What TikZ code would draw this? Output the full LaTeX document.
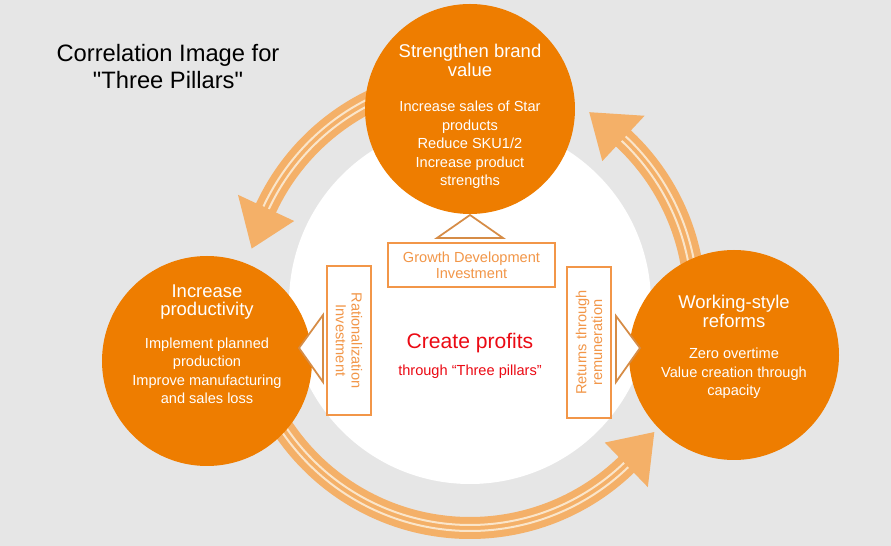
\documentclass[tikz,border=0pt]{standalone}
\usepackage{fontspec}
\setmainfont{Liberation Sans}[Ligatures=TeXOff]

\definecolor{cinza}{RGB}{230,230,230}
\definecolor{laranja}{RGB}{238,125,0}
\definecolor{laranjaclaro}{RGB}{244,176,104}
\definecolor{creme}{RGB}{250,229,202}
\definecolor{bordacaixa}{RGB}{242,150,72}
\definecolor{bordatri}{RGB}{214,140,70}
\definecolor{vermelho}{RGB}{235,10,20}

\begin{document}
\begin{tikzpicture}[
    pilar/.style={fill=laranja, circle, minimum size=4.2cm, inner sep=0pt},
    cabeca/.style={text=white, align=center, font=\fontsize{10.5}{10.4}\selectfont},
    corpo/.style={text=white, align=center, font=\fontsize{8.3}{10.5}\selectfont},
    caixa/.style={draw=bordacaixa, line width=1.1pt, fill=white, text=bordacaixa, align=center, inner sep=0pt, font=\fontsize{8.3}{9}\selectfont},
    haste/.style={draw=laranjaclaro, line width=0.44cm},
    listra/.style={draw=creme, line width=0.04cm},
    ponta/.style={fill=laranjaclaro},
    triangulo/.style={draw=bordatri, line width=1pt, fill=white, line join=miter}
  ]
      % Fundo
      \useasboundingbox (-9.4,-4.86) rectangle (8.42,6.06);
      \fill[cinza] (-9.4,-4.86) rectangle (8.42,6.06);

      % Circulo central
      \node[fill=white, circle, minimum size=7.24cm, inner sep=0pt] (centro) at (0,0) {};

      % Setas curvas entre os pilares
      \draw[haste] (110:4.5) arc[start angle=110, end angle=156, radius=4.5];
      \draw[listra] (110:4.44) arc[start angle=110, end angle=155, radius=4.44];
      \draw[listra] (110:4.56) arc[start angle=110, end angle=155, radius=4.56];
      \fill[ponta] (155:3.88) -- (166:4.5) -- (155:5.12) -- cycle;

      \draw[haste] (205:4.5) arc[start angle=205, end angle=315, radius=4.5];
      \draw[listra] (205:4.44) arc[start angle=205, end angle=314, radius=4.44];
      \draw[listra] (205:4.56) arc[start angle=205, end angle=314, radius=4.56];
      \fill[ponta] (314:3.88) -- (325:4.5) -- (314:5.12) -- cycle;

      \draw[haste] (0:4.5) arc[start angle=0, end angle=48, radius=4.5];
      \draw[listra] (0:4.44) arc[start angle=0, end angle=47, radius=4.44];
      \draw[listra] (0:4.56) arc[start angle=0, end angle=47, radius=4.56];
      \fill[ponta] (47:3.88) -- (58:4.5) -- (47:5.12) -- cycle;

      % Pilares
      \node[pilar] (marca) at (0,3.88) {};
      \node[pilar] (prod) at (-5.26,-1.16) {};
      \node[pilar] (trab) at (5.28,-1.04) {};

      % Triangulos
      \draw[triangulo] (0,1.76) -- (-0.66,1.3) -- (0.66,1.3) -- cycle;
      \draw[triangulo] (-3.42,-0.9) -- (-2.94,-0.24) -- (-2.94,-1.58) -- cycle;
      \draw[triangulo] (3.4,-0.9) -- (2.92,-0.26) -- (2.92,-1.58) -- cycle;

      % Caixas de investimento
      \node[caixa, minimum width=3.34cm, minimum height=0.88cm] (cresc) at (0.03,0.76) {Growth Development\\Investment};
      \node[caixa, rotate=-90, minimum width=2.98cm, minimum height=0.88cm] (racio) at (-2.42,-0.75) {Rationalization\\Investment};
      \node[caixa, rotate=90, minimum width=3.02cm, minimum height=0.88cm] (retorno) at (2.38,-0.79) {Returns through\\remuneration};

      % Textos dos pilares
      \node[cabeca] (marcaT) at (0,4.85) {Strengthen brand\\value};
      \node[corpo] (marcaC) at (0,3.16) {Increase sales of Star\\products\\Reduce SKU1/2\\Increase product\\strengths};
      \node[cabeca] (prodT) at (-5.26,0.02) {Increase\\productivity};
      \node[corpo] (prodC) at (-5.26,-1.36) {Implement planned\\production\\Improve manufacturing\\and sales loss};
      \node[cabeca] (trabT) at (5.28,-0.17) {Working-style\\reforms};
      \node[corpo] (trabC) at (5.28,-1.41) {Zero overtime\\Value creation through\\capacity};

      % Titulo e centro
      \node[align=center, font=\fontsize{13.5}{15.9}\selectfont] (titulo) at (-6.04,4.73) {Correlation Image for\\"Three Pillars"};
      \node[text=vermelho, font=\fontsize{12}{14}\selectfont] (lucro) at (0,-0.8) {Create profits};
      \node[text=vermelho, font=\fontsize{8.3}{10}\selectfont] (lucro2) at (0,-1.38) {through “Three pillars”};

    \end{tikzpicture}
\end{document}
